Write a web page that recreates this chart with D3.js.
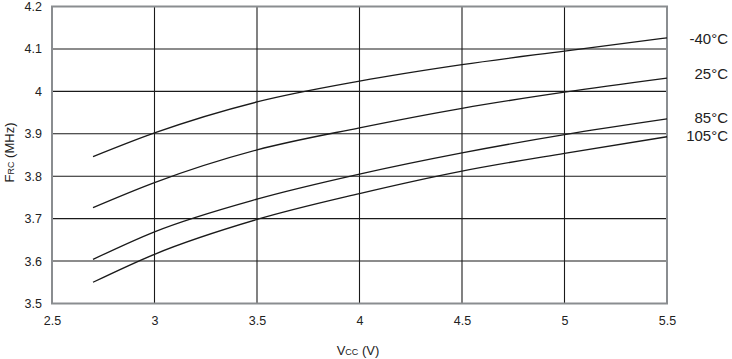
<!DOCTYPE html>
<html><head><meta charset="utf-8">
<script src="https://cdn.jsdelivr.net/npm/d3@7/dist/d3.min.js"></script>
<style>body{margin:0;background:#fff;}svg{display:block;font-family:"Liberation Sans",Arial,sans-serif;}</style>
</head><body>
<svg id="c" width="732" height="359"></svg>
<script>
const vcc = [2.7, 3.0, 3.5, 4.0, 4.5, 5.0, 5.5];
const seriesNames = ["-40°C", "25°C", "85°C", "105°C"];
const fM40 = [3.846, 3.902, 3.975, 4.024, 4.063, 4.095, 4.126];
const f25 = [3.726, 3.785, 3.862, 3.914, 3.960, 3.998, 4.031];
const f85 = [3.604, 3.669, 3.746, 3.805, 3.855, 3.898, 3.935];
const f105 = [3.550, 3.616, 3.698, 3.759, 3.812, 3.854, 3.893];
const xTicks = [2.5, 3, 3.5, 4, 4.5, 5, 5.5];
const yTicks = [3.5, 3.6, 3.7, 3.8, 3.9, 4, 4.1, 4.2];
const seriesValues = [fM40, f25, f85, f105];

const svg = d3.select("#c");
const L = 52, R = 667, T = 6.5, B = 303.5;
const x = d3.scaleLinear().domain([2.5, 5.5]).range([L, R]);
const y = d3.scaleLinear().domain([3.5, 4.2]).range([B, T]);

// grid
svg.append("g").selectAll("line.v").data(xTicks.slice(1, -1)).join("line")
  .attr("x1", d => x(d)).attr("x2", d => x(d)).attr("y1", T).attr("y2", B)
  .attr("stroke", "#1a1a1a").attr("stroke-width", 1.1);
svg.append("g").selectAll("line.h").data(yTicks.slice(1, -1)).join("line")
  .attr("y1", d => y(d)).attr("y2", d => y(d)).attr("x1", L).attr("x2", R)
  .attr("stroke", "#1a1a1a").attr("stroke-width", 1.1);

// frame
svg.append("rect").attr("x", L).attr("y", T).attr("width", R - L).attr("height", B - T)
  .attr("fill", "none").attr("stroke", "#8a8d90").attr("stroke-width", 2);

// axes labels via d3 axes (no lines)
const xAxis = svg.append("g").attr("transform", `translate(0,${B})`)
  .call(d3.axisBottom(x).tickValues(xTicks).tickSize(0).tickPadding(13).tickFormat(d3.format("")));
const yAxis = svg.append("g").attr("transform", `translate(${L},0)`)
  .call(d3.axisLeft(y).tickValues(yTicks).tickSize(0).tickPadding(10).tickFormat(d3.format("")));
[xAxis, yAxis].forEach(a => {
  a.select(".domain").remove();
  a.selectAll("text").attr("font-size", 12.5).attr("fill", "#222")
    .attr("font-family", '"Liberation Sans",Arial,sans-serif');
});

// curves
const line = d3.line().x((d, i) => x(vcc[i])).y(d => y(d)).curve(d3.curveMonotoneX);
svg.append("g").selectAll("path").data(seriesValues).join("path")
  .attr("d", d => line(d)).attr("fill", "none").attr("stroke", "#1a1a1a").attr("stroke-width", 1.3);

// series labels
const labelY = [39, 74, 118, 136];
svg.append("g").selectAll("text").data(seriesNames).join("text")
  .attr("x", 728).attr("y", (d, i) => labelY[i] + 5)
  .attr("text-anchor", "end").attr("font-size", 15).attr("fill", "#222")
  .text(d => d);

// axis titles
const xt = svg.append("text").attr("x", 358).attr("y", 355).attr("text-anchor", "middle")
  .attr("font-size", 13).attr("fill", "#222");
xt.append("tspan").text("V");
xt.append("tspan").attr("font-size", 9).text("CC");
xt.append("tspan").text(" (V)");

const yt = svg.append("text").attr("transform", "translate(14,152.5) rotate(-90)")
  .attr("text-anchor", "middle").attr("font-size", 13).attr("fill", "#222");
yt.append("tspan").text("F");
yt.append("tspan").attr("font-size", 9).text("RC");
yt.append("tspan").text(" (MHz)");
</script>
</body></html>
